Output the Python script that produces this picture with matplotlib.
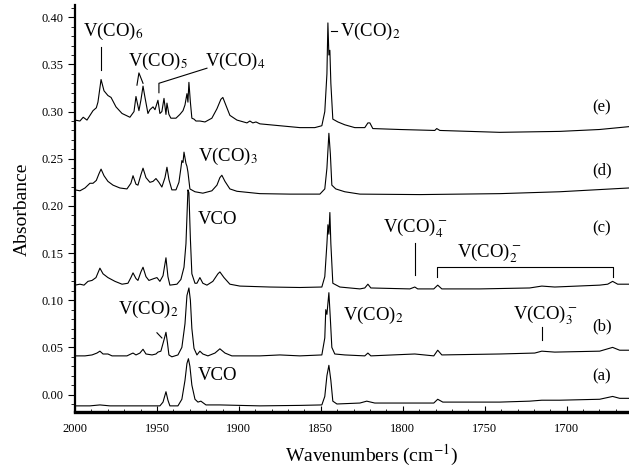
import matplotlib
matplotlib.use("Agg")
import matplotlib.pyplot as plt
from matplotlib.ticker import MultipleLocator, FormatStrFormatter

plt.rcParams['font.family'] = ['Liberation Serif', 'DejaVu Serif']
plt.rcParams['mathtext.fontset'] = 'stix'

# spectra: wavenumber (cm-1) and absorbance, one trace per sample
wn_e = [2000, 1997, 1995, 1992.7, 1989, 1987, 1986, 1984.1, 1982.3, 1979.9, 1978, 1975,
        1971.3, 1966.5, 1964, 1962.8, 1961, 1959.8, 1958.5, 1957.3, 1955.5, 1954.3,
        1952.4, 1951.2, 1949.4, 1948.2, 1947, 1945.7, 1944.5, 1943.9, 1942.7, 1941.5,
        1938.4, 1936, 1934.1, 1932.9, 1931.7, 1931.1, 1930.5, 1929.6, 1928.7, 1927.4,
        1926.2, 1923.8, 1920.7, 1916.5, 1913.4, 1911, 1909.8, 1908, 1905.5, 1901.2,
        1895.1, 1893.3, 1891.5, 1889.6, 1887.2, 1875, 1862.8, 1853.7, 1849.4, 1847.6,
        1846.3, 1845.7, 1845.1, 1844.5, 1843.9, 1842.7, 1839.6, 1835.4, 1829.3, 1823.2,
        1821.3, 1820.1, 1818.3, 1801.8, 1780.5, 1779.3, 1777.4, 1740.9, 1704.3, 1680,
        1662.2]
abs_e = [0.291, 0.290, 0.294, 0.291, 0.301, 0.304, 0.310, 0.334, 0.322, 0.317, 0.315,
         0.305, 0.298, 0.294, 0.300, 0.316, 0.301, 0.312, 0.327, 0.315, 0.298, 0.302,
         0.305, 0.302, 0.312, 0.298, 0.300, 0.314, 0.297, 0.309, 0.297, 0.293, 0.293,
         0.297, 0.301, 0.307, 0.319, 0.310, 0.331, 0.310, 0.293, 0.292, 0.290, 0.290,
         0.289, 0.293, 0.303, 0.313, 0.315, 0.307, 0.296, 0.291, 0.288, 0.290, 0.288,
         0.289, 0.287, 0.285, 0.283, 0.283, 0.285, 0.300, 0.340, 0.394, 0.360, 0.365,
         0.330, 0.292, 0.289, 0.286, 0.283, 0.283, 0.288, 0.288, 0.282, 0.281, 0.280,
         0.282, 0.280, 0.278, 0.279, 0.281, 0.284]

wn_d = [2000, 1997, 1993.9, 1990.9, 1989, 1987, 1985.4, 1984.1, 1982.3, 1979.9, 1976.8,
        1972.6, 1968.3, 1965.9, 1964.6, 1962.8, 1961.6, 1959.8, 1958.5, 1956.7, 1954.3,
        1952.4, 1950.6, 1948.8, 1947, 1945.1, 1943.9, 1942.7, 1940.9, 1938.4, 1936.6,
        1935.4, 1934.8, 1934.1, 1933.5, 1932.3, 1931.7, 1931.1, 1929.9, 1926.8, 1922,
        1916.5, 1913.4, 1911.6, 1910.4, 1908.5, 1905.5, 1901.2, 1887.2, 1868.9, 1850.6,
        1847.6, 1846.3, 1845.1, 1844.2, 1843.3, 1840.9, 1835.4, 1826.2, 1789.6, 1740.9,
        1704.3, 1662.2]
abs_d = [0.217, 0.216, 0.219, 0.224, 0.224, 0.227, 0.234, 0.239, 0.232, 0.226, 0.222,
         0.219, 0.218, 0.224, 0.232, 0.223, 0.222, 0.233, 0.240, 0.230, 0.225, 0.226,
         0.229, 0.225, 0.220, 0.230, 0.241, 0.228, 0.217, 0.217, 0.225, 0.240, 0.248,
         0.246, 0.257, 0.245, 0.242, 0.236, 0.218, 0.215, 0.2135, 0.216, 0.222, 0.230,
         0.2325, 0.226, 0.218, 0.2155, 0.213, 0.2125, 0.2125, 0.218, 0.240, 0.277,
         0.255, 0.222, 0.218, 0.215, 0.2125, 0.212, 0.213, 0.215, 0.219]

wn_c = [2000, 1997, 1994.5, 1992.1, 1989.6, 1987.2, 1984.8, 1982.9, 1979.9, 1975.6,
        1971.3, 1967.7, 1965.9, 1964.6, 1962.8, 1961.6, 1959.8, 1958.5, 1956.7, 1954.9,
        1951.8, 1950, 1948.2, 1946.3, 1944.5, 1943.3, 1942.1, 1937.8, 1935.4, 1933.5,
        1932.3, 1931.1, 1930.5, 1929.6, 1928.7, 1926.8, 1925.6, 1923.8, 1922, 1919.5,
        1915.9, 1912.8, 1911.6, 1909.1, 1905.5, 1899.4, 1881.1, 1862.8, 1849.4, 1847.6,
        1846.3, 1845.7, 1845.1, 1844.5, 1843.9, 1842.7, 1838.4, 1826.2, 1823.2, 1821.3,
        1819.5, 1795.7, 1792.7, 1790.9, 1781.1, 1778.7, 1776.2, 1753, 1722.6, 1715.2,
        1707.3, 1679.9, 1675, 1672, 1668.9, 1662.2]
abs_c = [0.116, 0.117, 0.116, 0.120, 0.121, 0.124, 0.134, 0.128, 0.124, 0.120, 0.117,
         0.118, 0.124, 0.129, 0.123, 0.121, 0.130, 0.135, 0.125, 0.121, 0.123, 0.124,
         0.120, 0.126, 0.145, 0.125, 0.116, 0.117, 0.122, 0.135, 0.160, 0.217, 0.214,
         0.165, 0.128, 0.118, 0.118, 0.124, 0.118, 0.116, 0.120, 0.128, 0.130, 0.124,
         0.117, 0.115, 0.114, 0.1135, 0.114, 0.125, 0.160, 0.180, 0.170, 0.193, 0.160,
         0.118, 0.114, 0.112, 0.113, 0.117, 0.113, 0.112, 0.114, 0.112, 0.112, 0.116,
         0.112, 0.112, 0.113, 0.115, 0.114, 0.116, 0.117, 0.120, 0.117, 0.117]

wn_b = [2000, 1993.9, 1989.6, 1986.6, 1984.8, 1982.9, 1979.9, 1977.4, 1968.3, 1965.9,
        1964.6, 1962.8, 1960.4, 1958.5, 1956.7, 1953, 1950.6, 1949.4, 1947.6, 1945.7,
        1944.5, 1943.6, 1942.7, 1940.9, 1937.2, 1934.8, 1932.9, 1931.7, 1930.5, 1929.6,
        1928.7, 1927.4, 1925.6, 1923.8, 1922, 1918.9, 1914.6, 1911.6, 1908.5, 1904.3,
        1887.2, 1875, 1862.8, 1849.4, 1847.6, 1847, 1846.3, 1845.1, 1844.2, 1843.3,
        1841.5, 1835.4, 1823.2, 1821.3, 1819.5, 1792.7, 1781.1, 1778.7, 1776.2, 1740.9,
        1719.5, 1715.2, 1707.3, 1679.9, 1672, 1667.7, 1662.2]
abs_b = [0.041, 0.041, 0.042, 0.044, 0.046, 0.043, 0.043, 0.041, 0.041, 0.043, 0.044,
         0.042, 0.044, 0.048, 0.043, 0.042, 0.043, 0.045, 0.046, 0.058, 0.066, 0.055,
         0.042, 0.040, 0.042, 0.050, 0.075, 0.105, 0.113, 0.100, 0.070, 0.049, 0.042,
         0.046, 0.043, 0.041, 0.044, 0.0485, 0.044, 0.041, 0.041, 0.042, 0.041, 0.042,
         0.060, 0.090, 0.085, 0.108, 0.080, 0.050, 0.043, 0.042, 0.041, 0.044, 0.041,
         0.043, 0.041, 0.047, 0.042, 0.043, 0.044, 0.046, 0.045, 0.046, 0.050, 0.047,
         0.047]

wn_a = [2000, 1990.9, 1984.8, 1978.7, 1954.3, 1948.2, 1946.3, 1944.5, 1943.3, 1942.1,
        1937.2, 1934.8, 1932.9, 1931.7, 1930.8, 1929.9, 1928.7, 1926.8, 1925, 1923.2,
        1920.1, 1911.6, 1887.2, 1862.8, 1849.4, 1847.6, 1846.3, 1845.1, 1843.9, 1842.7,
        1840.2, 1826.2, 1822, 1817.1, 1801.8, 1781.1, 1778.7, 1775.6, 1740.9, 1722.6,
        1715.2, 1704.3, 1679.9, 1672, 1667.7, 1662.2]
abs_a = [-0.012, -0.012, -0.011, -0.012, -0.012, -0.012, -0.008, 0.003, -0.006, -0.012,
         -0.012, -0.005, 0.015, 0.033, 0.038, 0.030, 0.010, -0.005, -0.008, -0.007,
         -0.011, -0.011, -0.012, -0.0115, -0.011, -0.002, 0.020, 0.031, 0.015, -0.007,
         -0.010, -0.009, -0.007, -0.009, -0.009, -0.009, -0.005, -0.008, -0.008, -0.007,
         -0.006, -0.006, -0.005, -0.002, -0.004, -0.004]

trace_names = ['(e)', '(d)', '(c)', '(b)', '(a)']
trace_label_y = [0.304, 0.238, 0.176, 0.072, 0.019]
x_ticks = [2000, 1950, 1900, 1850, 1800, 1750, 1700]

fig = plt.figure(figsize=(6.29, 4.66), dpi=100)
ax = fig.add_axes([75 / 629, 54 / 466, 554 / 629, 407 / 466])

for wn, ab in [(wn_e, abs_e), (wn_d, abs_d), (wn_c, abs_c), (wn_b, abs_b), (wn_a, abs_a)]:
    ax.plot(wn, ab, color='k', lw=0.8)

ax.set_xlim(2000, 1662)
ax.set_ylim(-0.0185, 0.413)

ax.spines['right'].set_visible(False)
ax.spines['top'].set_visible(False)
ax.spines['left'].set_linewidth(1.6)
ax.spines['bottom'].set_linewidth(2.4)

ax.set_xticks(x_ticks)
ax.xaxis.set_minor_locator(MultipleLocator(10))
ax.yaxis.set_major_locator(MultipleLocator(0.05))
ax.yaxis.set_minor_locator(MultipleLocator(0.01))
ax.yaxis.set_major_formatter(FormatStrFormatter('%.2f'))
ax.tick_params(axis='x', which='both', direction='in', labelsize=9, pad=8)
ax.tick_params(axis='x', which='major', length=4, width=0.8)
ax.tick_params(axis='x', which='minor', length=2, width=0.6)
ax.tick_params(axis='y', which='both', direction='out', labelsize=9)
ax.tick_params(axis='y', which='major', length=5, width=0.8)
ax.tick_params(axis='y', which='minor', length=3, width=0.6)

fig.text(22 / 629, 1 - 209 / 466, 'Absorbance', rotation=90, ha='center', va='center',
         fontsize=14)
fig.text(371 / 629, 1 - 455 / 466, 'Wavenumbers (cm$^{-1}$)', ha='center', va='center',
         fontsize=14)

fs = 13.5
ax.text(1995, 0.385, 'V(CO)$_6$', fontsize=fs, va='center')
ax.plot([1984, 1984], [0.344, 0.368], color='k', lw=0.8)
ax.text(1967.7, 0.353, 'V(CO)$_5$', fontsize=fs, va='center')
ax.plot([1962.2, 1961, 1958.5], [0.328, 0.341, 0.330], color='k', lw=0.8)
ax.text(1920.7, 0.353, 'V(CO)$_4$', fontsize=fs, va='center')
ax.plot([1919.5, 1948.8, 1948.8], [0.346, 0.330, 0.320], color='k', lw=0.8)
ax.plot([1843.9, 1840.2], [0.385, 0.385], color='k', lw=0.8)
ax.text(1838.4, 0.385, 'V(CO)$_2$', fontsize=fs, va='center')
ax.text(1925, 0.2526, 'V(CO)$_3$', fontsize=fs, va='center')
ax.text(1925, 0.186, 'VCO', fontsize=fs, va='center')
ax.text(1812, 0.1765, 'V(CO)$_4^-$', fontsize=fs, va='center')
ax.plot([1792.7, 1792.7], [0.127, 0.161], color='k', lw=0.8)
ax.text(1767, 0.150, 'V(CO)$_2^-$', fontsize=fs, va='center')
ax.plot([1779.3, 1779.3, 1672, 1672], [0.125, 0.135, 0.135, 0.125], color='k', lw=0.8)
ax.text(1973.8, 0.090, 'V(CO)$_2$', fontsize=fs, va='center')
ax.plot([1950, 1947], [0.0655, 0.060], color='k', lw=0.8)
ax.text(1836.6, 0.0835, 'V(CO)$_2$', fontsize=fs, va='center')
ax.text(1733, 0.0835, 'V(CO)$_3^-$', fontsize=fs, va='center')
ax.plot([1715, 1715], [0.058, 0.072], color='k', lw=0.8)
ax.text(1925, 0.020, 'VCO', fontsize=fs, va='center')

for name, yv in zip(trace_names, trace_label_y):
    ax.text(1678.7, yv, name, fontsize=12, ha='center', va='center')

fig.savefig('out.png', dpi=100)
